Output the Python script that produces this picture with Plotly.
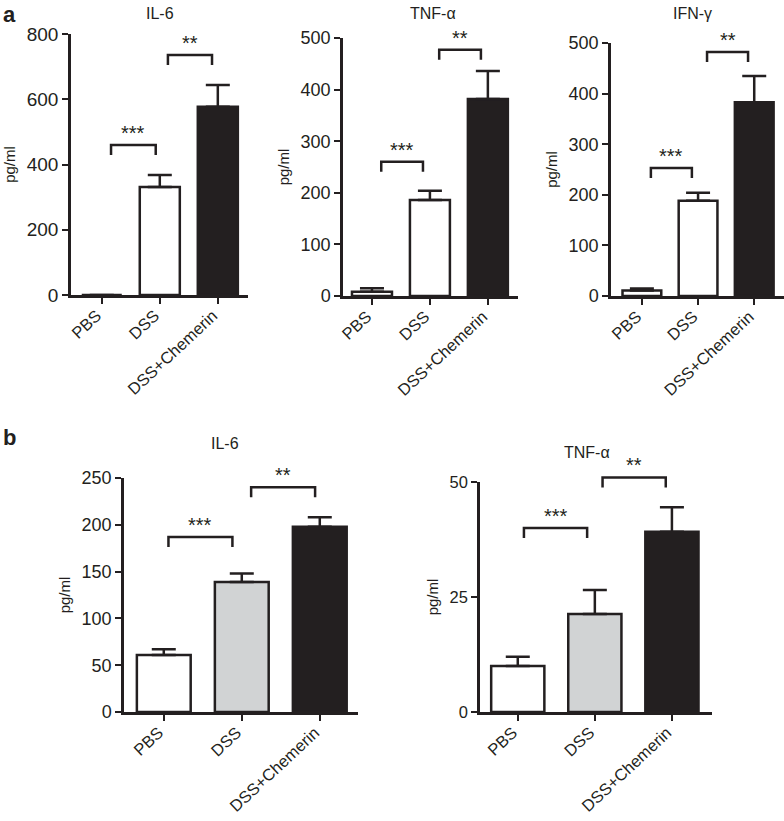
import plotly.graph_objects as go

W, H = 784, 821
INK = "#231f20"
FONT = "Liberation Sans, Arial, Helvetica, sans-serif"

categories = ["PBS", "DSS", "DSS+Chemerin"]

# Panel a
a_il6_mean = [0, 331, 577]
a_il6_err = [0, 37, 67]
a_tnf_mean = [8, 186, 382]
a_tnf_err = [7, 18, 54]
a_ifn_mean = [11, 188, 383]
a_ifn_err = [4, 16, 52]
# Panel b
b_il6_mean = [61, 139, 198]
b_il6_err = [6, 9, 10]
b_tnf_mean = [10.0, 21.3, 39.2]
b_tnf_err = [2.0, 5.2, 5.3]

a_colors = ["white", "white", INK]
b_colors = ["white", "#d1d3d4", INK]

# significance brackets: (left, right, level, label)
a_il6_sig = [(0.16, 0.93, 460, "***"), (1.14, 1.9, 736, "**")]
a_tnf_sig = [(0.16, 0.88, 260, "***"), (1.16, 1.88, 477, "**")]
a_ifn_sig = [(0.16, 0.89, 253, "***"), (1.16, 1.89, 482, "**")]
b_il6_sig = [(0.06, 0.88, 187, "***"), (1.12, 1.94, 240, "**")]
b_tnf_sig = [(0.08, 0.9, 40, "***"), (1.1, 1.92, 51, "**")]

# panel geometry in pixels: (x_left, x_right, y_zero, y_top)
panels = [
    dict(title="IL-6", mean=a_il6_mean, err=a_il6_err, colors=a_colors, sig=a_il6_sig,
         ymax=800, ticks=[0, 200, 400, 600, 800], px=(71, 248, 295, 34), xr=(-0.53, 2.52),
         fs=19, bw=0.69, tpos=(160, 14)),
    dict(title="TNF-α", mean=a_tnf_mean, err=a_tnf_err, colors=a_colors, sig=a_tnf_sig,
         ymax=500, ticks=[0, 100, 200, 300, 400, 500], px=(343, 518, 296, 38), xr=(-0.5, 2.52),
         fs=18, bw=0.69, tpos=(433, 14)),
    dict(title="IFN-γ", mean=a_ifn_mean, err=a_ifn_err, colors=a_colors, sig=a_ifn_sig,
         ymax=500, ticks=[0, 100, 200, 300, 400, 500], px=(611, 784, 296, 43), xr=(-0.55, 2.53),
         fs=18, bw=0.69, tpos=(692, 14)),
    dict(title="IL-6", mean=b_il6_mean, err=b_il6_err, colors=b_colors, sig=b_il6_sig,
         ymax=250, ticks=[0, 50, 100, 150, 200, 250], px=(124, 358, 712, 478), xr=(-0.51, 2.49),
         fs=18, bw=0.69, tpos=(225, 443)),
    dict(title="TNF-α", mean=b_tnf_mean, err=b_tnf_err, colors=b_colors, sig=b_tnf_sig,
         ymax=50, ticks=[0, 25, 50], px=(480, 712, 712, 482), xr=(-0.49, 2.52),
         fs=16.5, bw=0.69, tpos=(587, 452)),
]

fig = go.Figure()
layout = dict(
    template="none",
    width=W, height=H, margin=dict(l=0, r=0, t=0, b=0, autoexpand=False),
    paper_bgcolor="white", plot_bgcolor="white", showlegend=False,
    font=dict(family=FONT, color=INK),
)
shapes, annotations = [], []

for i, p in enumerate(panels):
    n = "" if i == 0 else str(i + 1)
    xl, xrgt, y0, yt = p["px"]
    xdom = [xl / W, min(xrgt / W, 1.0)]
    ydom = [1 - y0 / H, 1 - yt / H]
    fig.add_trace(go.Bar(
        x=[0, 1, 2], y=p["mean"], width=p["bw"],
        marker=dict(color=p["colors"], line=dict(color=INK, width=2.5)),
        error_y=dict(type="data", array=p["err"], arrayminus=[0, 0, 0], symmetric=False,
                     color=INK, thickness=2.5, width=12),
        xaxis="x" + n, yaxis="y" + n,
    ))
    layout["xaxis" + n] = dict(
        domain=xdom, anchor="y" + n, range=list(p["xr"]), automargin=False,
        tickvals=[0, 1, 2], ticktext=categories, tickangle=-43,
        ticks="outside", ticklen=6, tickwidth=2, tickcolor=INK,
        showline=True, linewidth=2.5, linecolor=INK, showgrid=False, zeroline=False,
        tickfont=dict(size=16.5, family=FONT, color=INK),
        ticklabelshift=-5, ticklabelstandoff=-4,
    )
    layout["yaxis" + n] = dict(
        domain=ydom, anchor="x" + n, range=[0, p["ymax"]], tickvals=p["ticks"], automargin=False,
        ticks="outside", ticklen=6, tickwidth=2, tickcolor=INK,
        showline=True, linewidth=2.5, linecolor=INK, showgrid=False, zeroline=False,
        tickfont=dict(size=p["fs"], family=FONT, color=INK),
        title=dict(text="pg/ml", font=dict(size=15, family=FONT, color=INK), standoff=8),
    )
    # subplot title
    annotations.append(dict(
        text=p["title"], x=p["tpos"][0] / W, y=1 - p["tpos"][1] / H,
        xref="paper", yref="paper", xanchor="center", yanchor="middle",
        showarrow=False, font=dict(size=16, family=FONT, color=INK),
    ))
    # brackets, in axis-domain coordinates computed from data values
    r0, r1 = p["xr"]
    hpx = y0 - yt
    drop = 10 / hpx
    for (a, b, lvl, lab) in p["sig"]:
        xa = (a - r0) / (r1 - r0)
        xb = (b - r0) / (r1 - r0)
        yv = lvl / p["ymax"]
        shapes.append(dict(
            type="path", xref="x" + n + " domain", yref="y" + n + " domain",
            path=f"M {xa},{yv - drop} L {xa},{yv} L {xb},{yv} L {xb},{yv - drop}",
            line=dict(color=INK, width=2.5),
        ))
        annotations.append(dict(
            text=lab, x=(xa + xb) / 2, y=yv, xref="x" + n + " domain", yref="y" + n + " domain",
            xanchor="center", yanchor="bottom", yshift=-1, showarrow=False,
            font=dict(size=20, family=FONT, color=INK),
        ))

annotations.append(dict(text="<b>a</b>", x=1 / W, y=1.0, xref="paper", yref="paper",
                        xanchor="left", yanchor="top", showarrow=False,
                        font=dict(size=22, family=FONT, color=INK)))
annotations.append(dict(text="<b>b</b>", x=1 / W, y=1 - 438 / H, xref="paper", yref="paper",
                        xanchor="left", yanchor="middle", showarrow=False,
                        font=dict(size=22, family=FONT, color=INK)))

layout["shapes"] = shapes
layout["annotations"] = annotations
fig.update_layout(**layout)
fig.write_html(
    "out.html",
    config={"displayModeBar": False},
    post_script="document.body.style.margin='0';document.body.style.overflow='hidden';",
)
